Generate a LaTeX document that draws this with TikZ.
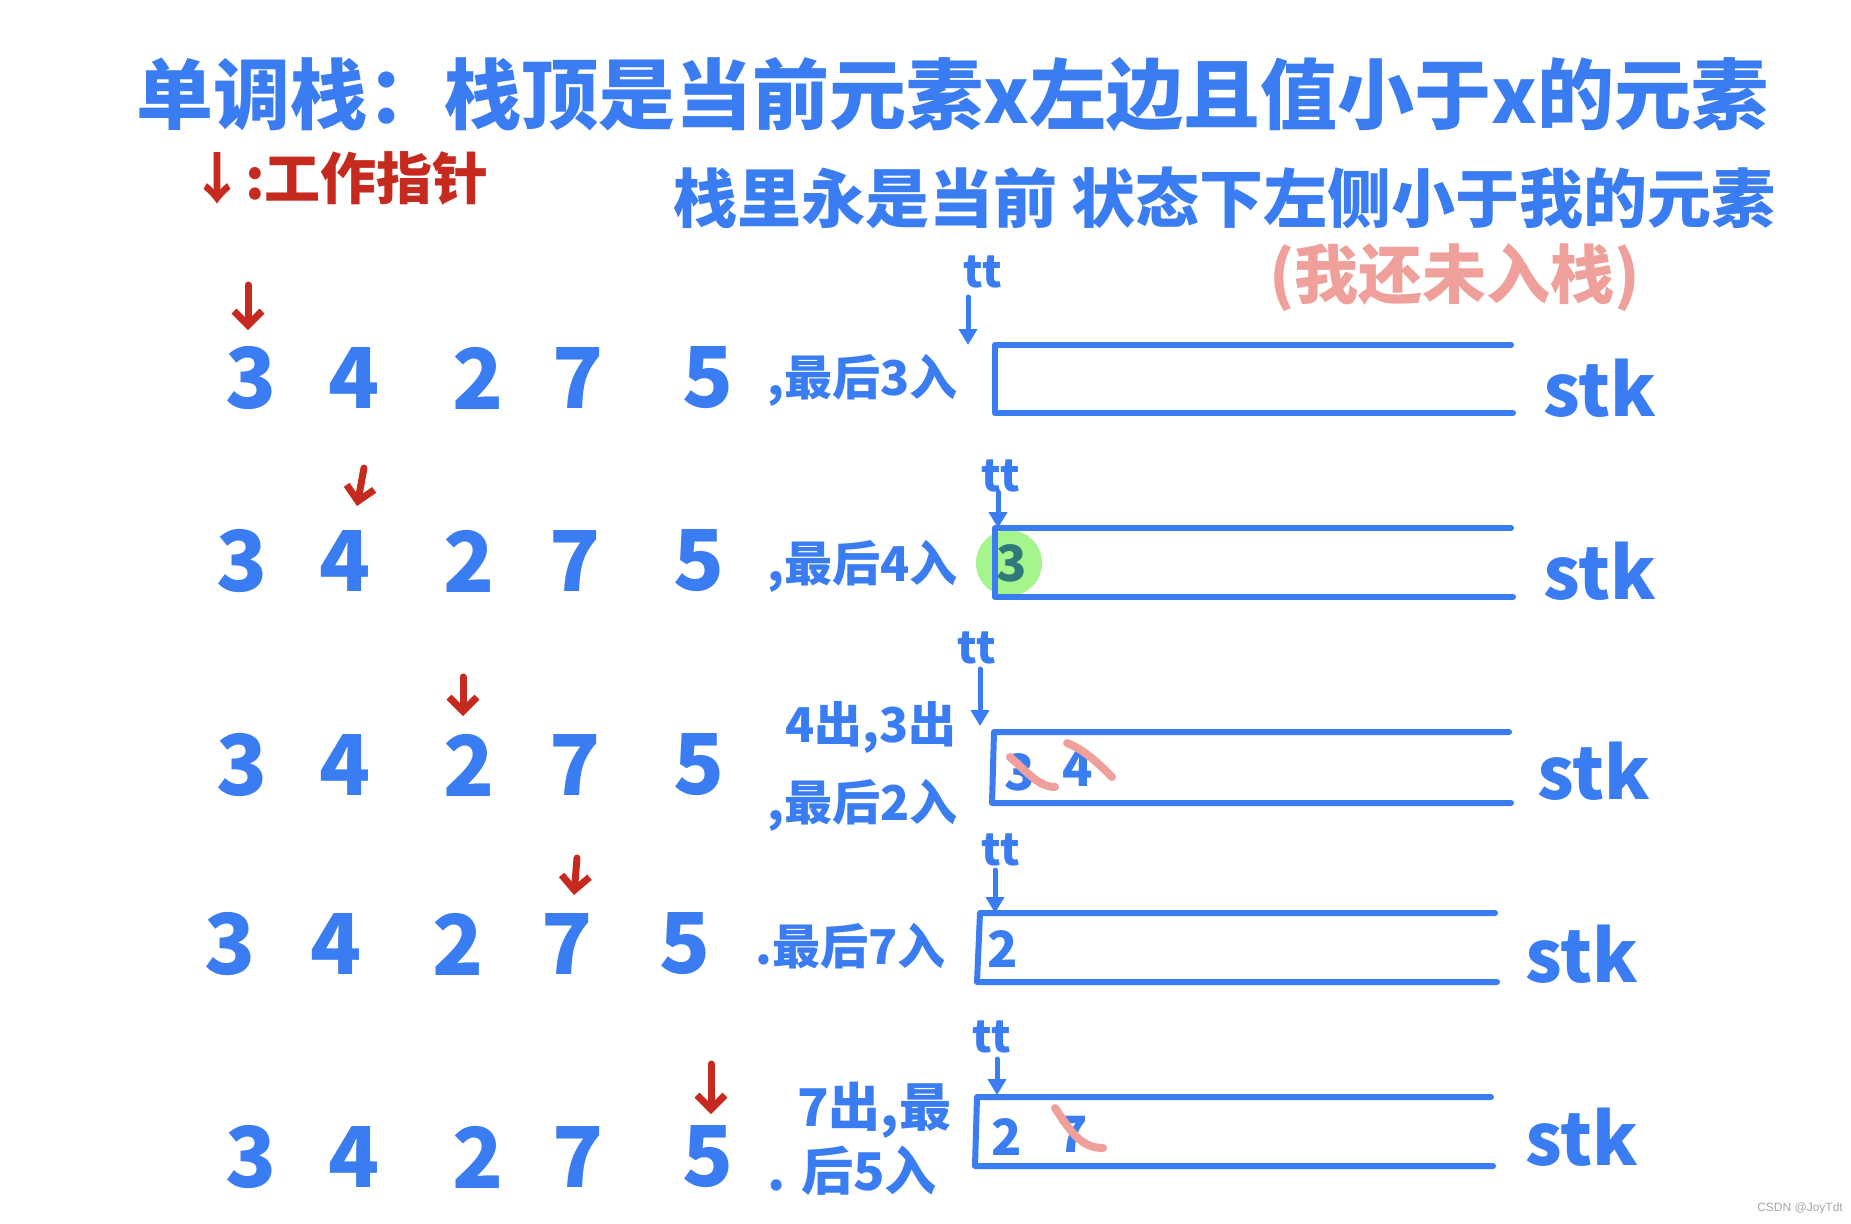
\documentclass[tikz,border=0pt]{standalone}
\usepackage{fontspec}
\setmainfont{Noto Sans CJK SC}
\newfontfamily\latinsans{Liberation Sans}
\usetikzlibrary{arrows.meta}
\definecolor{pen}{HTML}{3A7CF2}
\definecolor{ptrred}{HTML}{C62A1F}
\definecolor{pinkpen}{HTML}{F0A09A}
\definecolor{hlgreen}{HTML}{A6F58C}
\definecolor{teal3}{HTML}{2E7A7A}
\tikzset{
  dig/.style={text=pen, font=\bfseries\fontsize{84}{84}\selectfont, inner sep=0pt},
  lbl/.style={text=pen, font=\bfseries\fontsize{48}{48}\selectfont, inner sep=0pt, anchor=west},
  stklbl/.style={text=pen, font=\bfseries\fontsize{72}{72}\selectfont, inner sep=0pt},
  ttlbl/.style={text=pen, font=\bfseries\fontsize{44}{44}\selectfont, inner sep=0pt},
  ptr/.style={draw=ptrred, line width=7pt, line cap=round, line join=round, -{Straight Barb[length=14pt,width=28pt]}},
  ttarrow/.style={draw=pen, line width=5pt, line cap=round, -{Triangle[length=16pt,width=18pt]}},
  stackbox/.style={draw=pen, line width=6pt, line cap=round, line join=round},
  strike/.style={draw=pinkpen, line width=8pt, line cap=round},
  inbox/.style={text=pen, font=\bfseries\fontsize{50}{50}\selectfont, inner sep=0pt},
}
\begin{document}
\begin{tikzpicture}[x=1pt,y=-1pt]
\useasboundingbox (0,0) rectangle (1851,1223);
\fill[white] (0,0) rectangle (1851,1223);

% titles
\node[text=pen, font=\bfseries\fontsize{77}{77}\selectfont, inner sep=0pt, anchor=west] (title) at (136,95) {单调栈：栈顶是当前元素x左边且值小于x的元素};
\node[text=ptrred, font=\bfseries\fontsize{56}{56}\selectfont, inner sep=0pt, anchor=west] (legend) at (189,178) {↓:工作指针};
\node[text=pen, font=\bfseries\fontsize{64}{64}\selectfont, inner sep=0pt, anchor=west] (sub) at (673,198) {栈里永是当前 状态下左侧小于我的元素};
\node[text=pinkpen, font=\bfseries\fontsize{64}{64}\selectfont, inner sep=0pt, anchor=west] (note) at (1269,278) {(我还未入栈)};

% ---------- row 1
\node[dig] (r1a) at (251,378) {3};
\node[dig] (r1b) at (354,378) {4};
\node[dig] (r1c) at (478,378) {2};
\node[dig] (r1d) at (578,378) {7};
\node[dig] (r1e) at (708,378) {5};
\coordinate (p1s) at (248,285); \coordinate (p1e) at (248,330);
\draw[ptr] (p1s) -- (p1e);
\node[lbl] (l1) at (767,380) {,最后3入};
\coordinate (b1a) at (1511,345); \coordinate (b1b) at (995,345);
\coordinate (b1c) at (995,413); \coordinate (b1d) at (1513,413);
\draw[stackbox] (b1a) -- (b1b) -- (b1c) -- (b1d);
\node[ttlbl] (tt1) at (983,272) {tt};
\coordinate (t1e) at (968,345);
\draw[ttarrow] (968,297) -- (t1e);
\node[stklbl] (s1) at (1600,388) {stk};

% ---------- row 2
\node[dig] (r2a) at (242,561) {3};
\node[dig] (r2b) at (345,561) {4};
\node[dig] (r2c) at (469,561) {2};
\node[dig] (r2d) at (575,561) {7};
\node[dig] (r2e) at (699,561) {5};
\coordinate (p2s) at (364,468); \coordinate (p2e) at (357,506);
\draw[ptr] (p2s) -- (p2e);
\node[lbl] (l2) at (767,566) {,最后4入};
\coordinate (b2a) at (1511,528); \coordinate (b2b) at (995,528);
\coordinate (b2c) at (995,597); \coordinate (b2d) at (1513,597);
\fill[hlgreen] (1009,563) circle (33pt);
\draw[stackbox] (b2a) -- (b2b) -- (b2c) -- (b2d);
\node[text=teal3, font=\bfseries\fontsize{50}{50}\selectfont, inner sep=0pt] (c2a) at (1012,563) {3};
\node[ttlbl] (tt2) at (1001,476) {tt};
\coordinate (t2e) at (998,528);
\draw[ttarrow] (998,492) -- (t2e);
\node[stklbl] (s2) at (1600,571) {stk};

% ---------- row 3
\node[dig] (r3a) at (242,765) {3};
\node[dig] (r3b) at (345,765) {4};
\node[dig] (r3c) at (469,765) {2};
\node[dig] (r3d) at (575,765) {7};
\node[dig] (r3e) at (699,765) {5};
\coordinate (p3s) at (463,677); \coordinate (p3e) at (463,716);
\draw[ptr] (p3s) -- (p3e);
\node[lbl] (l3a) at (785,727) {4出,3出};
\node[lbl] (l3b) at (767,805) {,最后2入};
\coordinate (b3a) at (1509,732); \coordinate (b3b) at (994,732);
\coordinate (b3c) at (992,803); \coordinate (b3d) at (1511,803);
\draw[stackbox] (b3a) -- (b3b) -- (b3c) -- (b3d);
\node[inbox] (c3a) at (1020,772) {3};
\node[inbox] (c3b) at (1078,768) {4};
\draw[strike] (1010,757) .. controls (1030,775) and (1040,787) .. (1055,787);
\draw[strike] (1067,743) .. controls (1085,750) and (1100,765) .. (1112,777);
\node[ttlbl] (tt3) at (977,648) {tt};
\coordinate (t3e) at (980,726);
\draw[ttarrow] (980,669) -- (t3e);
\node[stklbl] (s3) at (1594,771) {stk};

% ---------- row 4
\node[dig] (r4a) at (230,944) {3};
\node[dig] (r4b) at (336,944) {4};
\node[dig] (r4c) at (458,944) {2};
\node[dig] (r4d) at (567,944) {7};
\node[dig] (r4e) at (685,944) {5};
\coordinate (p4s) at (577,858); \coordinate (p4e) at (574,895);
\draw[ptr] (p4s) -- (p4e);
\node[lbl] (l4) at (755,946) {.最后7入};
\coordinate (b4a) at (1495,913); \coordinate (b4b) at (980,913);
\coordinate (b4c) at (977,982); \coordinate (b4d) at (1497,982);
\draw[stackbox] (b4a) -- (b4b) -- (b4c) -- (b4d);
\node[inbox] (c4a) at (1003,949) {2};
\node[ttlbl] (tt4) at (1001,850) {tt};
\coordinate (t4e) at (995,913);
\draw[ttarrow] (995,870) -- (t4e);
\node[stklbl] (s4) at (1582,954) {stk};

% ---------- row 5
\node[dig] (r5a) at (251,1157) {3};
\node[dig] (r5b) at (354,1157) {4};
\node[dig] (r5c) at (478,1157) {2};
\node[dig] (r5d) at (578,1157) {7};
\node[dig] (r5e) at (708,1157) {5};
\coordinate (p5s) at (711,1064); \coordinate (p5e) at (711,1114);
\draw[ptr] (p5s) -- (p5e);
\node[lbl, font=\bfseries\fontsize{52}{52}\selectfont] (l5a) at (797,1110) {7出,最};
\node[lbl, font=\bfseries\fontsize{52}{52}\selectfont] (l5b) at (767,1171) {. 后5入};
\coordinate (b5a) at (1491,1097); \coordinate (b5b) at (977,1097);
\coordinate (b5c) at (975,1166); \coordinate (b5d) at (1493,1166);
\draw[stackbox] (b5a) -- (b5b) -- (b5c) -- (b5d);
\node[inbox] (c5a) at (1007,1137) {2};
\node[inbox] (c5b) at (1073,1134) {7};
\draw[strike] (1055,1108) .. controls (1070,1130) and (1080,1148) .. (1103,1148);
\node[ttlbl] (tt5) at (992,1037) {tt};
\coordinate (t5e) at (997,1095);
\draw[ttarrow] (997,1059) -- (t5e);
\node[stklbl] (s5) at (1582,1137) {stk};

% watermark
\node[text=gray!70, font=\latinsans\fontsize{12}{12}\selectfont, inner sep=0pt, anchor=east] (wm) at (1843,1208) {CSDN @JoyTdt};
\end{tikzpicture}
\end{document}
